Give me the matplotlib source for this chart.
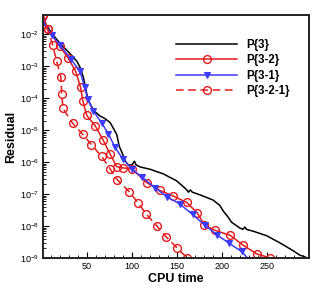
import matplotlib
matplotlib.use("Agg")
import matplotlib.pyplot as plt
from matplotlib.ticker import MultipleLocator, FixedLocator, NullFormatter, LogFormatterSciNotation

plt.rcParams['font.family'] = ['Liberation Sans', 'DejaVu Sans']
plt.rcParams['mathtext.default'] = 'regular'

# P{3}
x_p3 = [0, 10.8, 20, 31.1, 38.9, 42.2, 45.9, 49.7, 51.4, 54.4, 57.8, 64.4, 70, 75.6, 78.9, 83,
        85.9, 88.9, 92.2, 95.6, 99.7, 101.1, 102.8, 104.4, 108.9, 120, 134.8, 149.7, 160.8, 162.8,
        165, 167.2, 175.6, 190.3, 197.8, 201.4, 206.7, 210.8, 220, 223.3, 225.6, 227.8, 234.8,
        249.7, 264.4, 279.2, 286.7, 292.2, 296.7]
y_p3 = [3.2e-2, 1.07e-2, 5.2e-3, 2.5e-3, 1.41e-3, 9.3e-4, 4.6e-4, 1.38e-4, 8.9e-5, 5.9e-5, 4.0e-5,
        2.8e-5, 2.3e-5, 1.74e-5, 1.2e-5, 7.4e-6, 3.1e-6, 2.0e-6, 1.12e-6, 8.3e-7, 8.1e-7, 9.1e-7,
        1.07e-6, 8.3e-7, 7.1e-7, 6.0e-7, 4.3e-7, 2.6e-7, 1.38e-7, 1.15e-7, 1.35e-7, 1.15e-7, 9.5e-8,
        6.5e-8, 4.4e-8, 3.0e-8, 1.95e-8, 1.32e-8, 8.7e-9, 7.9e-9, 9.3e-9, 7.8e-9, 6.9e-9, 5.0e-9,
        3.0e-9, 1.7e-9, 1.23e-9, 1.1e-9, 9.1e-10]

# P{3-2}
x_p32 = [1.1, 6.1, 19.4, 28.9, 37.2, 42.8, 45.2, 49.7, 58.9, 68.1, 75.6, 83.0, 90.3, 99.7, 116.3,
         131.1, 145.2, 160.8, 172.6, 180.6, 192.2, 209.4, 223.0, 238.6, 254.1]
y_p32 = [4.1e-2, 1.45e-2, 4.4e-3, 1.8e-3, 7.2e-4, 2.2e-4, 8.5e-5, 2.9e-5, 1.4e-5, 4.8e-6, 1.8e-6,
         7.2e-7, 6.6e-7, 6.2e-7, 2.3e-7, 1.3e-7, 8.9e-8, 5.5e-8, 2.6e-8, 1.07e-8, 7.4e-9, 5.1e-9,
         2.6e-9, 1.35e-9, 1.0e-9]

# P{3-1}
x_p31 = [0.5, 10.8, 20, 31.7, 42.2, 47.2, 50.6, 57, 66.3, 73.7, 81.1, 89.7, 99.7, 110.8, 125.6,
         138.6, 153.3, 167.4, 181.1, 194.1, 208.1, 221.9, 230.3]
y_p31 = [2.6e-2, 9.5e-3, 4.6e-3, 1.74e-3, 6.9e-4, 2.3e-4, 9.5e-5, 4.0e-5, 1.7e-5, 7.8e-6, 2.95e-6,
         1.26e-6, 6.2e-7, 3.4e-7, 1.6e-7, 8.3e-8, 4.9e-8, 2.3e-8, 1.07e-8, 5.4e-9, 2.9e-9, 1.6e-9,
         8.9e-10]

# P{3-2-1}
x_p321 = [1.1, 6.1, 11.7, 16.1, 20.8, 21.9, 23.3, 33.9, 45.2, 54.8, 66.3, 75.6, 83.7, 96.7, 106.7,
          116.1, 127.8, 137.8, 150, 161.1]
y_p321 = [4.07e-2, 1.45e-2, 4.68e-3, 1.48e-3, 4.68e-4, 1.35e-4, 4.79e-5, 1.66e-5, 7.41e-6, 3.55e-6,
          1.51e-6, 6.17e-7, 2.82e-7, 1.20e-7, 5.37e-8, 2.34e-8, 1.0e-8, 4.68e-9, 2.09e-9, 1.02e-9]

labels = ['P{3}', 'P{3-2}', 'P{3-1}', 'P{3-2-1}']
x_ticks = [50, 100, 150, 200, 250]
y_ticks = [1e-9, 1e-8, 1e-7, 1e-6, 1e-5, 1e-4, 1e-3, 1e-2]

fig = plt.figure(figsize=(3.27, 2.91), dpi=100)
ax = fig.add_axes([0.1315, 0.1134, 0.945 - 0.1315, 0.948 - 0.1134])

red = '#e41a1c'
blue = '#3c3cff'
ax.plot(x_p3, y_p3, color='black', lw=1.1, label=labels[0])
ax.plot(x_p32, y_p32, color=red, lw=1.1, marker='o', ms=5.6, mfc='none', mec=red, mew=1.0,
        label=labels[1])
ax.plot(x_p31, y_p31, color=blue, lw=1.1, marker='v', ms=5, mfc=blue, mec=blue, mew=0.8,
        label=labels[2])
ax.plot(x_p321, y_p321, color=red, lw=1.1, ls=(0, (5, 3)), marker='o', ms=5.6, mfc='none', mec=red,
        mew=1.0, label=labels[3])

ax.set_yscale('log')
ax.set_xlim(1, 297)
ax.set_ylim(1e-9, 4e-2)
ax.set_xticks(x_ticks)
ax.xaxis.set_minor_locator(MultipleLocator(10))
ax.yaxis.set_major_locator(FixedLocator(y_ticks))
minor = [m * d for d in y_ticks for m in range(2, 10) if m * d <= 4e-2]
ax.yaxis.set_minor_locator(FixedLocator(minor))
ax.yaxis.set_minor_formatter(NullFormatter())
ax.yaxis.set_major_formatter(LogFormatterSciNotation())

ax.tick_params(which='both', direction='in', top=False, right=False, labelsize=6.5, pad=3)
ax.tick_params(which='major', length=4, width=0.8)
ax.tick_params(which='minor', length=2, width=0.6)
for s in ax.spines.values():
    s.set_linewidth(1.4)
    s.set_color('#222222')

ax.set_xlabel('CPU time', fontsize=9, fontweight='bold', labelpad=1)
ax.set_ylabel('Residual', fontsize=9, fontweight='bold', labelpad=2)

leg = ax.legend(loc='upper right', bbox_to_anchor=(0.968, 0.945), frameon=False, fontsize=8.3,
                handlelength=5.3, numpoints=1, labelspacing=0.3, handletextpad=0.8)
for t in leg.get_texts():
    t.set_fontweight('bold')

fig.savefig('out.png', dpi=100)
